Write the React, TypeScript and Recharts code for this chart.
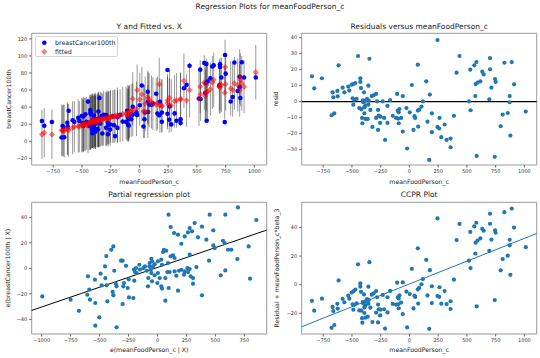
import React from 'react';
import { ScatterChart, Scatter, XAxis, YAxis, ErrorBar, ReferenceLine, ReferenceArea } from 'recharts';

const FONT = '"DejaVu Sans", sans-serif';
const TAB_BLUE = '#1f77b4';

// meanFoodPerson_c (shared x of top panels and CCPR)
const foodX = [-848,-828,-761,-616,-447,-348,-668,-662,-627,-624,
-581,-566,-532,-523,-502,-488,-470,-427,-427,-421,
-395,-357,-494,-479,-459,-488,-677,-654,-436,-418,
-406,-401,-383,-369,-354,-357,-383,-392,-340,-392,
-412,-383,-363,-409,-328,-311,-290,-282,-232,-273,
-290,-267,-252,-255,-322,-273,-212,-220,-191,-168,
-191,-145,-116,-107,-101,-87,-93,-98,-72,-93,
-58,-58,-26,3,-20,44,50,35,73,21,
73,244,436,410,146,178,117,105,85,195,
157,262,195,244,259,306,277,323,358,358,
387,172,529,564,582,576,593,617,573,518,
532,634,646,701,701,713,695,745,750,826,
890,910,872,872,855,811,794,878,1012,585,
742,76];

const resid = [15.8,8.3,14.6,22.7,28.5,26.8,5.8,2.7,6.7,3.3,
8.7,5.8,9.4,6.9,10.6,11,11.6,14.6,12.3,8.5,
5.8,10,2.1,1.2,1.7,-1.9,-8.5,-7.3,-4,-4.8,
0.8,-0.4,0.6,1.7,0.6,-1.9,-2.3,-3.5,-5.2,-7.3,
-10.2,-10.8,-10.8,-13.5,3.5,4,4.8,0.2,0.2,-5.2,
-10.2,-8.7,-9.4,-13.3,-15.8,-17.7,-23.9,-10.2,-2.7,1,
-13.3,-8.9,-10.2,4.8,-5.6,-4.6,-6.7,-10.6,-10.2,-13.5,
3.5,-18.7,-4,-6.7,-29.3,-9.1,-10.2,-17.7,-5.6,10.4,
23.1,38.5,28.5,18.1,12.7,4.4,0.2,-3.1,-5,-7.3,
-12.5,-10.2,-19.1,-15.8,-16.8,-14.3,-22.2,-23.9,-23.1,-28.5,
-8.9,-36.4,20,22.7,24.7,11,11.9,12.7,3.5,0.2,
-5.4,18.7,17,27.2,20.2,8.7,1.5,14.1,12.3,24.3,
24.7,10.8,3.5,-0.4,-7.1,-8.1,-15.4,-21.2,-6.2,-33.9,
-34.5,-15.6];

const fittedVals = [8,10,8,13,18,24,12,13,15,14,
16,17,18,17,19,18,20,22,21,23,
24,25,19,20,21,20,13,12,22,23,
24,22,25,24,26,24,23,25,26,23,
24,22,25,23,26,27,26,28,29,27,
26,28,29,27,25,26,30,29,31,30,
29,32,33,31,34,35,33,30,36,32,
37,50,38,49,60,35,44,35,52,55,
35,45,60,48,43,42,44,46,48,41,
45,51,42,48,42,47,42,48,49,50,
71,67,64,69,66,57,58,61,53,50,
55,69,72,63,67,66,64,87,67,68,
68,64,60,76,66,60,62,72,81,58,
57,50];

const observed = [23.8,18.3,22.6,35.7,46.5,50.8,17.8,15.7,21.7,17.3,
24.7,22.8,27.4,23.9,29.6,29,31.6,36.6,33.3,31.5,
29.8,35,21.1,21.2,22.7,18.1,4.5,4.7,18,18.2,
24.8,21.6,25.6,25.7,26.6,22.1,20.7,21.5,20.8,15.7,
13.8,11.2,14.2,9.5,29.5,31,30.8,28.2,29.2,21.8,
15.8,19.3,19.6,13.7,9.2,8.3,6.1,18.8,28.3,31,
15.7,23.1,22.8,35.8,28.4,30.4,26.3,19.4,25.8,18.5,
40.5,31.3,34,42.3,30.7,25.9,33.8,17.3,46.4,65.4,
58.1,83.5,88.5,66.1,55.7,46.4,44.2,42.9,43,33.7,
32.5,40.8,22.9,32.2,25.2,32.7,19.8,24.1,25.9,21.5,
62.1,30.6,84,91.7,90.7,68,69.9,73.7,56.5,50.2,
49.6,87.7,89,90.2,87.2,74.7,65.5,101.1,79.3,92.3,
92.7,74.8,63.5,75.6,58.9,51.9,46.6,50.8,74.8,24.1,
22.5,34.4];

const piHalf = [29,29,29,31,32,31,30,30,31,30,
31,30,31,30,32,31,31,32,31,32,
31,32,31,31,31,32,30,31,32,31,
32,31,32,31,32,31,32,31,32,31,
32,31,32,31,31,32,31,32,31,31,
32,31,31,32,31,32,31,31,32,31,
31,32,31,31,32,31,32,31,31,32,
31,31,32,31,30,31,32,31,31,32,
31,31,32,31,31,32,31,31,32,31,
31,32,31,31,32,31,31,32,31,31,
32,31,31,32,31,31,32,31,31,32,
31,31,32,31,31,32,31,32,31,31,
32,31,31,32,31,31,32,31,32,31,
31,31];

const ccprVals = [-11.3,-18.2,-9.8,3,14.2,15.7,-15.6,-18.5,-13.4,-16.7,
-9.9,-12.3,-7.6,-9.8,-5.5,-4.6,-3.4,0.9,-1.4,-5,
-6.8,-1.4,-13.7,-14.1,-13,-17.5,-30.2,-28.2,-18,-18.2,
-12.2,-13.2,-11.7,-10.1,-10.7,-13.3,-14.6,-16,-16.1,-19.8,
-23.4,-23.1,-22.4,-26.6,-7,-6,-4.5,-8.8,-7.2,-13.9,
-19.5,-17.2,-17.5,-21.5,-26.1,-26.4,-30.7,-17.2,-8.8,-4.4,
-19.4,-13.5,-13.9,1.4,-8.8,-7.4,-9.7,-13.7,-12.5,-16.5,
1.6,-20.6,-4.8,-6.6,-29.9,-7.7,-8.6,-16.6,-3.3,11.1,
25.4,46.3,42.5,31.2,17.4,10.1,3.9,0.3,-2.3,-1.1,
-7.5,-1.8,-12.9,-8,-8.5,-4.5,-13.3,-13.6,-11.6,-17,
3.5,-30.9,36.9,40.7,43.3,29.4,30.9,32.4,21.8,16.8,
11.6,39,37.7,49.6,42.6,31.5,23.7,37.9,36.3,50.7,
53.2,39.9,31.4,27.5,20.3,17.9,10,6.9,26.2,-15.2,
-10.8,-13.2];

// partial regression: e(meanFoodPerson_c | X), e(breastCancer100th | X)
const partialX = [-995,-750,-678,-600,-589,-606,-583,-540,-537,-502,
-537,-491,-482,-453,-450,-439,-433,-442,-399,-381,
-373,-358,-353,-381,-387,-353,-315,-301,-272,-301,
-289,-295,-257,-246,-208,-203,-185,-194,-180,-157,
-151,-122,-108,-93,-79,-70,-53,-47,-249,-200,
96,114,143,177,206,235,263,278,298,321,
350,384,422,451,482,445,482,494,566,580,
586,609,638,695,690,787,799,854,546,586,
384,307,307,336,278,258,235,206,186,278,
148,134,114,91,56,48,76,33,39,4,
-24,-47,-39,-59,-68,-53,-24,4,19,-1,
33,39,68,85,105,148,163,177,68,96,
229,263,286,-82];

const partialY = [-22,-24.6,-33.3,-6.3,-16.7,-20.7,-24.6,-8.9,-27.2,-38.4,
-45,-4.2,-13.3,1.5,-7.6,-13.3,-25.9,9.6,14.6,17.2,
-1.9,-12.3,-14.1,-21.2,-18.5,-46.3,6,6,2,-28,
-11.5,-14.1,-15.4,-22.8,-23.3,-1,0.2,-2.9,-3.7,2.8,
-1,0.2,1.5,-1.9,-7.6,1.5,7.5,-10.2,-8.6,-9.7,
42.1,32.4,27.7,26.4,19.3,25,28.2,31.6,29,35.5,
24.3,32.7,22.5,42.1,29.8,6,18,15.9,21.6,19.8,
42.1,14.6,14.6,47.8,7.3,17.2,-8.1,37.9,-5.5,-1.6,
-21.2,-7.6,-12,1,-0.6,0.2,-2.4,-1.1,-1.9,10.7,
8.1,10.2,9.4,4.2,14.6,12.8,13.8,6.8,2.8,5.5,
3.3,5.5,1.5,-1.1,4.2,-3.7,-5.5,-3.7,-7.6,-11.5,
-14.1,-15.9,-7.6,-2.9,-2.9,-2.4,-5.8,-17.5,-25.4,-15.4,
-5,-2.9,-6.3,-14.1];

// fitted lines (endpoints at the axis limits)
const partialLineX = [-1086, 943];
const partialLineY = [-33, 30];
const ccprLineX = [-937, 1107];
const ccprLineY = [-29.4, 35.8];

// axes
const foodDomain = [-937, 1107];
const partialXDomain = [-1086, 943];
const fitYDomain = [-27.8, 126.6];
const residYDomain = [-39.6, 42.7];
const partialYDomain = [-51.5, 51.8];
const ccprYDomain = [-34.5, 57.6];

const xTicksFood = [-750, -500, -250, 0, 250, 500, 750, 1000];
const xTicksPartial = [-1000, -750, -500, -250, 0, 250, 500, 750];
const yTicksFit = [-20, 0, 20, 40, 60, 80, 100, 120];
const yTicksResid = [-30, -20, -10, 0, 10, 20, 30, 40];
const yTicksPartial = [-40, -20, 0, 20, 40];
const yTicksCcpr = [-20, 0, 20, 40];

const fitRows = foodX.map((x, i) => ({ x, y: fittedVals[i], err: piHalf[i] }));
const obsRows = foodX.map((x, i) => ({ x, y: observed[i] }));
const residRows = foodX.map((x, i) => ({ x, y: resid[i] }));
const ccprRows = foodX.map((x, i) => ({ x, y: ccprVals[i] }));
const partialRows = partialX.map((x, i) => ({ x, y: partialY[i] }));

const fmt = (v: number) => String(v).replace('-', '\u2212');

const W = 270;
const H = 161;
const margin = { top: 13.3, right: 3.3, left: 0, bottom: 1 };
const Y_W = 31.7;
const X_H = 15;
const tickStyle = { fontSize: 5, fill: '#333', fontFamily: FONT };
const frameColor = '#9a9a9a';

const blueDot = (p: any) => <circle cx={p.cx} cy={p.cy} r={2.3} fill="#0000ff" />;
const tabDot = (p: any) => <circle cx={p.cx} cy={p.cy} r={2.1} fill={TAB_BLUE} />;
const noDot = () => <g />;
const redDiamond = (p: any) => {
  const s = 2.7;
  return (
    <path
      d={`M${p.cx},${p.cy - s}L${p.cx + s},${p.cy}L${p.cx},${p.cy + s}L${p.cx - s},${p.cy}Z`}
      fill="#ff0000"
      fillOpacity={0.5}
      stroke="#ff0000"
      strokeOpacity={0.5}
      strokeWidth={0.6}
    />
  );
};

function axes(xDomain: number[], xTicks: number[], yDomain: number[], yTicks: number[]) {
  return [
    <XAxis
      key="x"
      type="number"
      dataKey="x"
      domain={xDomain}
      ticks={xTicks}
      allowDataOverflow
      interval={0}
      tickFormatter={fmt}
      tick={tickStyle}
      tickSize={2.5}
      tickMargin={2}
      axisLine={false}
      tickLine={{ stroke: '#666' }}
      height={X_H}
    />,
    <YAxis
      key="y"
      type="number"
      dataKey="y"
      domain={yDomain}
      ticks={yTicks}
      allowDataOverflow
      interval={0}
      tickFormatter={fmt}
      tick={tickStyle}
      tickSize={2.5}
      tickMargin={2}
      axisLine={false}
      tickLine={{ stroke: '#666' }}
      width={Y_W}
    />,
  ];
}

function frame(xDomain: number[], yDomain: number[]) {
  return (
    <ReferenceArea
      key="frame"
      x1={xDomain[0]}
      x2={xDomain[1]}
      y1={yDomain[0]}
      y2={yDomain[1]}
      fill="none"
      fillOpacity={0}
      stroke={frameColor}
      strokeWidth={1}
      ifOverflow="visible"
    />
  );
}

const textBase: React.CSSProperties = {
  position: 'absolute',
  whiteSpace: 'nowrap',
  fontFamily: FONT,
  lineHeight: 1,
  color: '#1a1a1a',
};

function Txt({ x, y, size, text, rotate }: { x: number; y: number; size: number; text: string; rotate?: boolean }) {
  return (
    <div
      style={{
        ...textBase,
        left: x,
        top: y,
        fontSize: size,
        transform: `translate(-50%, -50%)${rotate ? ' rotate(-90deg)' : ''}`,
      }}
    >
      {text}
    </div>
  );
}

export default function App() {
  return (
    <div style={{ position: 'absolute', left: 0, top: 0, width: 540, height: 358, background: '#fff', overflow: 'hidden' }}>
      <Txt x={270} y={7.3} size={7.5} text="Regression Plots for meanFoodPerson_c" />

      {/* Top-left: Y and Fitted vs. X */}
      <div style={{ position: 'absolute', left: 0, top: 20 }}>
        <ScatterChart width={W} height={H} margin={margin}>
          {axes(foodDomain, xTicksFood, fitYDomain, yTicksFit)}
          <Scatter data={fitRows} shape={noDot} isAnimationActive={false}>
            <ErrorBar dataKey="err" direction="y" width={0} stroke="rgba(0,0,0,0.5)" strokeWidth={0.8} />
          </Scatter>
          <Scatter data={obsRows} shape={blueDot} isAnimationActive={false} />
          <Scatter data={fitRows} shape={redDiamond} isAnimationActive={false} />
          {frame(foodDomain, fitYDomain)}
        </ScatterChart>
      </div>
      <Txt x={149.2} y={26.7} size={7.5} text="Y and Fitted vs. X" />
      <Txt x={149.2} y={182} size={6.2} text="meanFoodPerson_c" />
      <Txt x={8.5} y={99} size={6.2} text="breastCancer100th" rotate />
      <div
        style={{
          position: 'absolute',
          left: 35,
          top: 36,
          width: 83,
          height: 21,
          background: 'rgba(255,255,255,0.8)',
          border: '1px solid #d6d6d6',
          borderRadius: 2,
          boxSizing: 'border-box',
        }}
      >
        <svg width={14} height={20} style={{ position: 'absolute', left: 2, top: 0 }}>
          <circle cx={6.3} cy={5.8} r={2.3} fill="#0000ff" />
          <path d="M6.3,12.1L9,14.8L6.3,17.5L3.6,14.8Z" fill="#ff0000" fillOpacity={0.5} stroke="#ff0000" strokeOpacity={0.5} strokeWidth={0.6} />
        </svg>
        <div style={{ ...textBase, left: 19, top: 2.6, fontSize: 6.3 }}>breastCancer100th</div>
        <div style={{ ...textBase, left: 19, top: 11.6, fontSize: 6.3 }}>fitted</div>
      </div>

      {/* Top-right: residuals */}
      <div style={{ position: 'absolute', left: 270, top: 20 }}>
        <ScatterChart width={W} height={H} margin={margin}>
          {axes(foodDomain, xTicksFood, residYDomain, yTicksResid)}
          <Scatter data={residRows} shape={tabDot} isAnimationActive={false} />
          <ReferenceLine y={0} stroke="#000" strokeWidth={1.2} />
          {frame(foodDomain, residYDomain)}
        </ScatterChart>
      </div>
      <Txt x={419.2} y={26.7} size={7.5} text="Residuals versus meanFoodPerson_c" />
      <Txt x={419.2} y={182} size={6.2} text="meanFoodPerson_c" />
      <Txt x={276} y={99} size={6.2} text="resid" rotate />

      {/* Bottom-left: partial regression */}
      <div style={{ position: 'absolute', left: 0, top: 189 }}>
        <ScatterChart width={W} height={H} margin={margin}>
          {axes(partialXDomain, xTicksPartial, partialYDomain, yTicksPartial)}
          <Scatter data={partialRows} shape={tabDot} isAnimationActive={false} />
          <ReferenceLine
            segment={[
              { x: partialLineX[0], y: partialLineY[0] },
              { x: partialLineX[1], y: partialLineY[1] },
            ]}
            stroke="#000"
            strokeWidth={1}
            ifOverflow="visible"
          />
          {frame(partialXDomain, partialYDomain)}
        </ScatterChart>
      </div>
      <Txt x={149.2} y={195} size={7.5} text="Partial regression plot" />
      <Txt x={149.2} y={350} size={6.2} text="e(meanFoodPerson_c | X)" />
      <Txt x={7.5} y={268} size={6.2} text="e(breastCancer100th | X)" rotate />

      {/* Bottom-right: CCPR */}
      <div style={{ position: 'absolute', left: 270, top: 189 }}>
        <ScatterChart width={W} height={H} margin={margin}>
          {axes(foodDomain, xTicksFood, ccprYDomain, yTicksCcpr)}
          <Scatter data={ccprRows} shape={tabDot} isAnimationActive={false} />
          <ReferenceLine
            segment={[
              { x: ccprLineX[0], y: ccprLineY[0] },
              { x: ccprLineX[1], y: ccprLineY[1] },
            ]}
            stroke={TAB_BLUE}
            strokeWidth={1}
            ifOverflow="visible"
          />
          {frame(foodDomain, ccprYDomain)}
        </ScatterChart>
      </div>
      <Txt x={419.2} y={195} size={7.5} text="CCPR Plot" />
      <Txt x={419.2} y={350} size={6.2} text="meanFoodPerson_c" />
      <Txt x={277} y={268} size={6.2} text="Residual + meanFoodPerson_c*beta_3" rotate />
    </div>
  );
}
